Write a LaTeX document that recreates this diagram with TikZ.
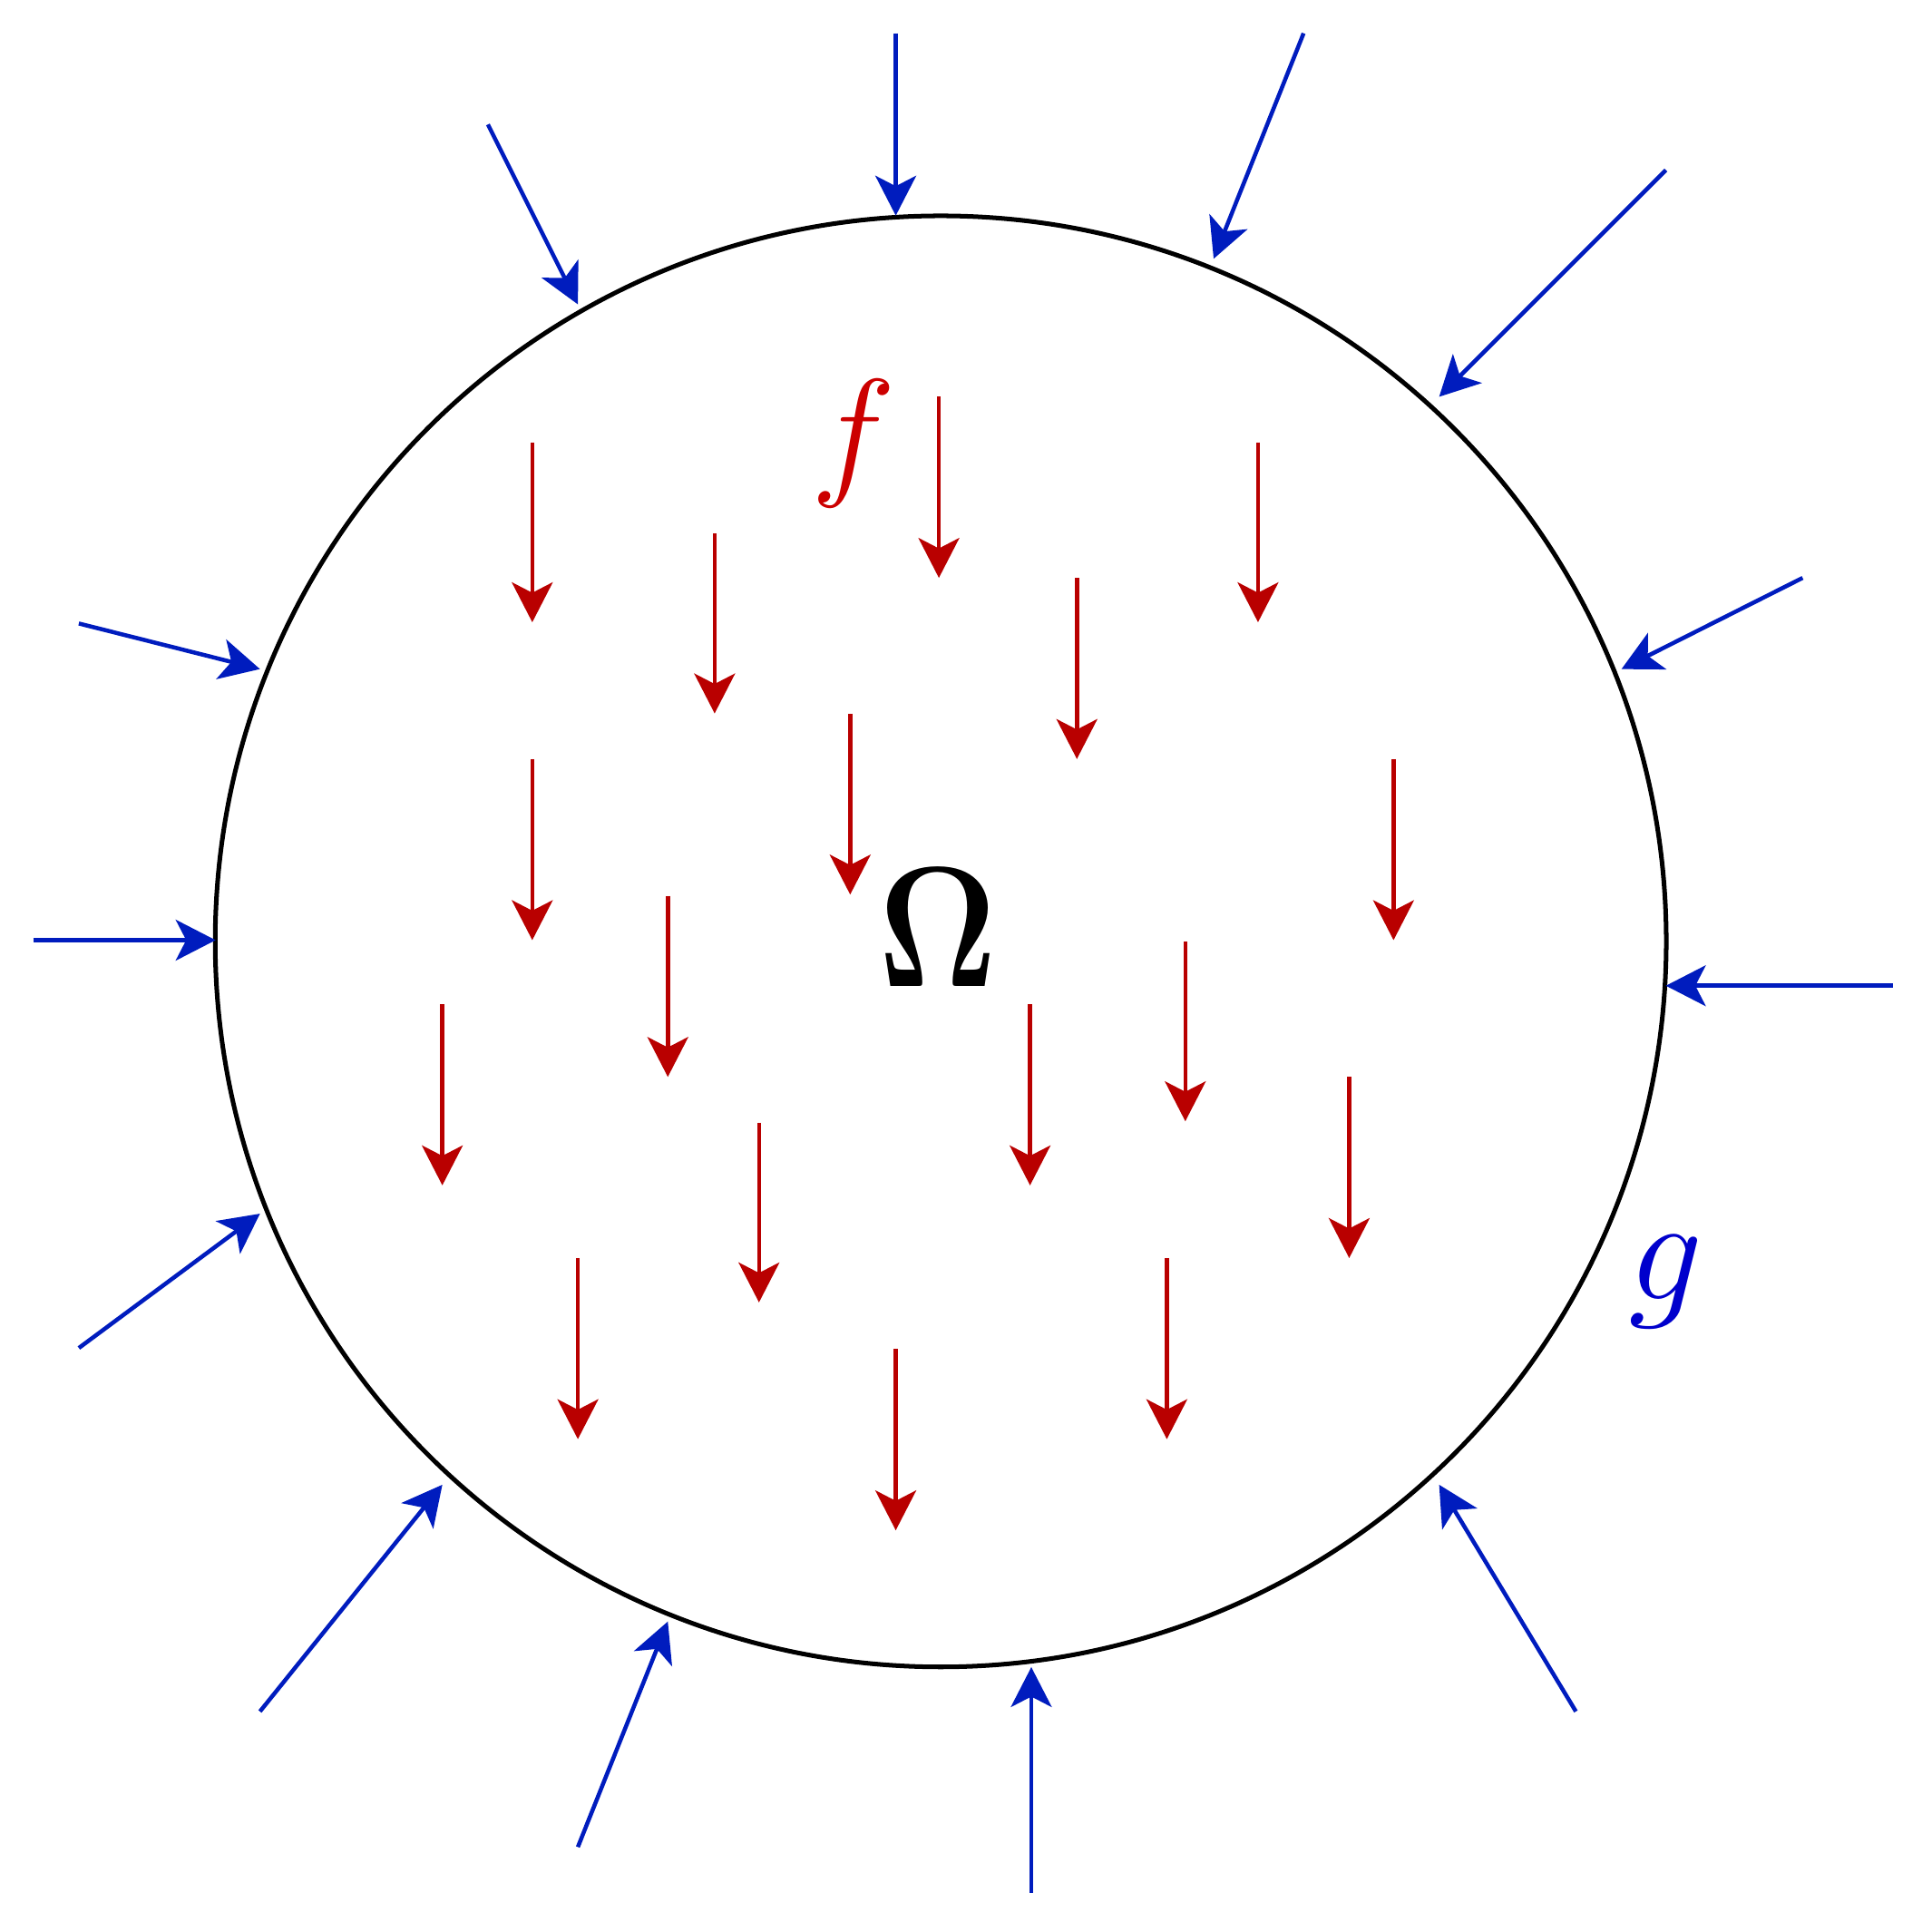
\documentclass[tikz,border=0pt]{standalone}
\usepackage{amsmath}
\usetikzlibrary{arrows.meta}
\definecolor{fred}{RGB}{185,0,0}
\definecolor{flab}{RGB}{204,0,0}
\definecolor{gblue}{RGB}{0,28,190}
\definecolor{glab}{RGB}{0,0,204}
\tikzset{
  farrow/.style={draw=fred, line width=0.95pt, -{Stealth[length=9.2pt,width=9.4pt,inset=2.4pt]}, fill=fred},
  garrow/.style={draw=gblue, line width=0.95pt, -{Stealth[length=9.2pt,width=9.4pt,inset=2.4pt]}, fill=gblue},
}
\begin{document}
\begin{tikzpicture}[x=0.01cm,y=-0.01cm]
\useasboundingbox (0,0) rectangle (1568,1568);
\node[draw, circle, line width=1.05pt, minimum size=11.77cm, inner sep=0pt] (dom) at (763.5,764) {};
% red arrows (f)
\foreach \i/\x/\ya/\yb in {1/432/359/505, 2/580/433/579, 3/762/322/469, 4/874/469/616,
  5/1021/359/505, 6/432/616/763, 7/690/579/726, 8/1131/616/763, 9/542/727/874,
  10/359/815/962, 11/836/815/962, 12/962/764/910, 13/616/911/1057, 14/1095/874/1021,
  15/469/1021/1168, 16/947/1021/1168, 17/727/1095/1242}{
  \coordinate (fs\i) at (\x,\ya);
  \coordinate (fe\i) at (\x,\yb);
  \draw[farrow] (fs\i) -- (fe\i);
}
% blue arrows (g)
\foreach \i/\xa/\ya/\xb/\yb in {1/727/27/727/175, 2/1058/27/985/210, 3/396/101/469/247,
  4/1352/138/1168/322, 5/64/506/211/543, 6/1463/469/1316/543, 7/27/763/175/763,
  8/1536/800/1352/800, 9/64/1094/211/985, 10/211/1389/359/1205, 11/469/1499/542/1316,
  12/837/1536/837/1353, 13/1279/1389/1168/1205}{
  \coordinate (gs\i) at (\xa,\ya);
  \coordinate (ge\i) at (\xb,\yb);
  \draw[garrow] (gs\i) -- (ge\i);
}
\node[text=flab, font=\Huge, scale=1.33] (flabel) at (693,360) {$f$};
\node[text=glab, font=\Huge, scale=1.37] (glabel) at (1352,1040) {$g$};
\node[text=black, font=\Huge, scale=1.59, xscale=0.855] (olabel) at (761.5,753) {$\boldsymbol{\Omega}$};
\end{tikzpicture}
\end{document}
